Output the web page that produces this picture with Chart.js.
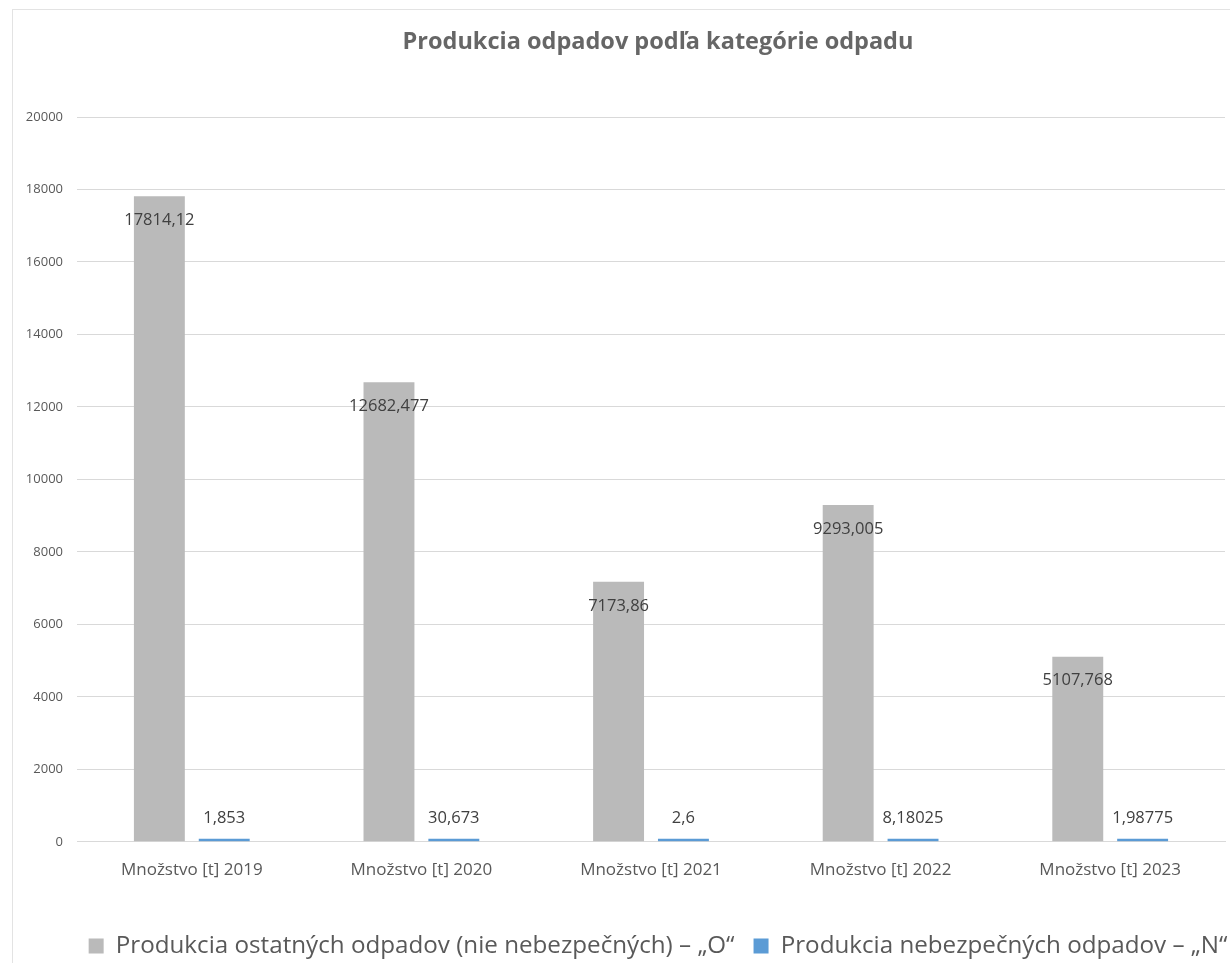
<!DOCTYPE html>
<html>
<head>
<meta charset="utf-8">
<script src="https://cdn.jsdelivr.net/npm/chart.js@4/dist/chart.umd.min.js"></script>
<style>
  html, body { margin: 0; padding: 0; background: #ffffff; width: 1230px; height: 963px; overflow: hidden; position: relative; }
  #frame { position: absolute; left: 12px; top: 9px; width: 1400px; height: 1100px; border: 1px solid #e3e3e3; box-sizing: border-box; }
  #wrap { position: absolute; left: 13px; top: 10px; width: 1290px; height: 958px; }
</style>
</head>
<body>
<div id="frame"></div>
<div id="wrap"><canvas id="c" width="1290" height="958"></canvas></div>
<script>
const categories = ["Množstvo [t] 2019", "Množstvo [t] 2020", "Množstvo [t] 2021", "Množstvo [t] 2022", "Množstvo [t] 2023"];
const ostatneValues = [17814.12, 12682.477, 7173.86, 9293.005, 5107.768];
const nebezpecneValues = [1.853, 30.673, 2.6, 8.18025, 1.98775];
const seriesNames = ["Produkcia ostatných odpadov (nie nebezpečných) – „O“", "Produkcia nebezpečných odpadov – „N“"];
const chartTitle = "Produkcia odpadov podľa kategórie odpadu";
const yTicks = [0, 2000, 4000, 6000, 8000, 10000, 12000, 14000, 16000, 18000, 20000];

const fmt = v => String(v).replace('.', ',');

const barLabels = {
  id: 'barLabels',
  afterDatasetsDraw(chart) {
    const ctx = chart.ctx;
    ctx.save();
    ctx.font = '16.5px "Open Sans"';
    ctx.fillStyle = '#404040';
    ctx.textAlign = 'center';
    ctx.textBaseline = 'middle';
    chart.data.datasets.forEach((ds, di) => {
      const meta = chart.getDatasetMeta(di);
      meta.data.forEach((el, i) => {
        const v = ds.data[i];
        const y = di === 0 ? el.y + 24 : el.y - 21;
        ctx.fillText(fmt(v), el.x, y);
      });
    });
    ctx.restore();
  }
};

new Chart(document.getElementById('c'), {
  type: 'bar',
  data: {
    labels: categories,
    datasets: [
      { label: seriesNames[0], data: ostatneValues, backgroundColor: '#bababa', borderWidth: 0,
        categoryPercentage: 0.565, barPercentage: 0.785 },
      { label: seriesNames[1], data: nebezpecneValues, backgroundColor: '#5b9bd5', borderWidth: 0,
        categoryPercentage: 0.565, barPercentage: 0.785, minBarLength: 3 }
    ]
  },
  options: {
    responsive: false,
    animation: false,
    devicePixelRatio: 1,
    layout: { padding: { left: 0, right: 0, top: 0, bottom: 0 } },
    plugins: {
      tooltip: { enabled: false },
      title: {
        display: true, text: chartTitle, color: '#666666',
        font: { family: 'Open Sans', size: 23.5, weight: 'bold' },
        padding: { top: 18, bottom: 60.8 }
      },
      legend: {
        position: 'bottom',
        labels: {
          font: { family: 'Open Sans', size: 24.2 },
          color: '#595959', boxWidth: 15, boxHeight: 15, padding: 19
        }
      }
    },
    scales: {
      x: {
        grid: { display: false, drawTicks: false },
        border: { display: true, color: '#d9d9d9', width: 1 },
        ticks: { color: '#595959', font: { family: 'Open Sans', size: 17 }, padding: 18, maxRotation: 0 },
        afterFit: s => { s.height = 73; }
      },
      y: {
        min: 0, max: 20000,
        afterBuildTicks: s => { s.ticks = yTicks.map(v => ({ value: v })); },
        grid: { color: '#d9d9d9', lineWidth: 1, drawTicks: false },
        border: { display: false },
        ticks: { color: '#595959', font: { family: 'Open Sans', size: 13 }, padding: 14, callback: v => String(v) },
        afterFit: s => { s.width = 64; }
      },
      y2: {
        position: 'right',
        display: true,
        grid: { display: false, drawTicks: false },
        border: { display: false },
        ticks: { display: false },
        afterFit: s => { s.width = 78; }
      }
    }
  },
  plugins: [barLabels]
});
</script>
</body>
</html>
